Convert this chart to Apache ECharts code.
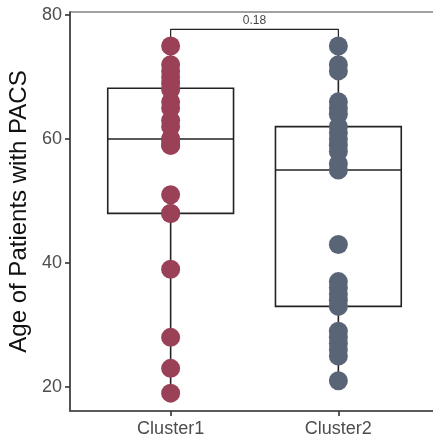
<!DOCTYPE html>
<html>
<head>
<meta charset="utf-8">
<script src="https://cdn.jsdelivr.net/npm/echarts@6/dist/echarts.min.js"></script>
<style>
html,body{margin:0;padding:0;background:#fff;}
#main{width:433px;height:439px;}
</style>
</head>
<body>
<div id="main"></div>
<script>
// ---- data ----
const categories = ['Cluster1', 'Cluster2'];
const cluster1Ages = [19, 23, 28, 39, 48, 48, 51, 59, 59, 60, 60, 62, 63, 65, 66, 68, 69, 70, 71, 72, 75];
const cluster2Ages = [21, 25, 26, 27, 28, 29, 33, 34, 35, 36, 37, 43, 55, 56, 58, 59, 60, 61, 62, 64, 65, 66, 71, 72, 75];
// box stats: [min, Q1, median, Q3, max]
const cluster1Box = [19, 48, 60, 68.2, 75];
const cluster2Box = [21, 33, 55, 62, 75];
const yTicks = [20, 40, 60, 80];
const pValueLabel = '0.18';
const bracketY = 77.7;
const bracketTipY = 76.2;

const colors = ['#9B4157', '#596577'];

const boxData = [
  [1].concat(cluster1Box),
  [2].concat(cluster2Box)
];

const chart = echarts.init(document.getElementById('main'), null, {renderer: 'canvas'});

function renderBox(params, api) {
  const x = api.value(0);
  const mn = api.coord([x, api.value(1)]);
  const q1 = api.coord([x, api.value(2)]);
  const md = api.coord([x, api.value(3)]);
  const q3 = api.coord([x, api.value(4)]);
  const mx = api.coord([x, api.value(5)]);
  const hw = api.size([0.75, 0])[0] / 2;
  const st = {stroke: '#222', lineWidth: 1.6, fill: null};
  return {
    type: 'group',
    children: [
      {type: 'line', shape: {x1: mx[0], y1: mx[1], x2: q3[0], y2: q3[1]}, style: st},
      {type: 'line', shape: {x1: q1[0], y1: q1[1], x2: mn[0], y2: mn[1]}, style: st},
      {type: 'rect', shape: {x: q3[0] - hw, y: q3[1], width: 2 * hw, height: q1[1] - q3[1]}, style: {stroke: '#222', lineWidth: 1.6, fill: '#fff'}},
      {type: 'line', shape: {x1: md[0] - hw, y1: md[1], x2: md[0] + hw, y2: md[1]}, style: st}
    ]
  };
}

const option = {
  animation: false,
  backgroundColor: '#fff',
  grid: {
    left: 70, top: 12, width: 369, bottom: 28,
    show: true, borderColor: '#444', borderWidth: 1.2,
    containLabel: false, outerBoundsMode: 'none'
  },
  xAxis: {
    type: 'value', min: 0.4, max: 2.6,
    axisLine: {show: true, onZero: false, lineStyle: {color: '#444', width: 1.6}},
    axisTick: {show: true, customValues: [1, 2], length: 5, lineStyle: {color: '#333', width: 1.6}},
    axisLabel: {
      customValues: [1, 2], color: '#4D4D4D', fontSize: 18, margin: 9,
      fontFamily: 'Liberation Sans, Arial, sans-serif',
      formatter: v => categories[Math.round(v) - 1] || ''
    },
    splitLine: {show: false}
  },
  yAxis: {
    type: 'value', min: 16.12, max: 80.5,
    name: 'Age of Patients with PACS', nameLocation: 'middle', nameGap: 37,
    nameTextStyle: {color: '#111', fontSize: 24, fontFamily: 'Liberation Sans, Arial, sans-serif'},
    axisLine: {show: true, onZero: false, lineStyle: {color: '#444', width: 1.6}},
    axisTick: {show: true, customValues: yTicks, length: 5, lineStyle: {color: '#333', width: 1.6}},
    axisLabel: {
      customValues: yTicks, color: '#4D4D4D', fontSize: 18, margin: 8,
      fontFamily: 'Liberation Sans, Arial, sans-serif'
    },
    splitLine: {show: false}
  },
  series: [
    {
      type: 'custom', renderItem: renderBox, data: boxData, z: 1,
      encode: {x: 0, y: [1, 2, 3, 4, 5]}
    },
    {
      type: 'line', data: [[1, bracketTipY], [1, bracketY], [2, bracketY], [2, bracketTipY]],
      symbol: 'none', lineStyle: {color: '#222', width: 1.2}, z: 2, silent: true
    },
    {
      type: 'scatter', data: [[1.5, bracketY]], symbolSize: 0, z: 3,
      label: {show: true, position: 'top', distance: 3, formatter: pValueLabel, color: '#111', fontSize: 12, fontFamily: 'Liberation Sans, Arial, sans-serif'}
    },
    {
      type: 'scatter', data: cluster1Ages.map(v => [1, v]), symbolSize: 19, z: 4,
      itemStyle: {color: colors[0], opacity: 1}
    },
    {
      type: 'scatter', data: cluster2Ages.map(v => [2, v]), symbolSize: 19, z: 4,
      itemStyle: {color: colors[1], opacity: 1}
    }
  ]
};
chart.setOption(option);
</script>
</body>
</html>
